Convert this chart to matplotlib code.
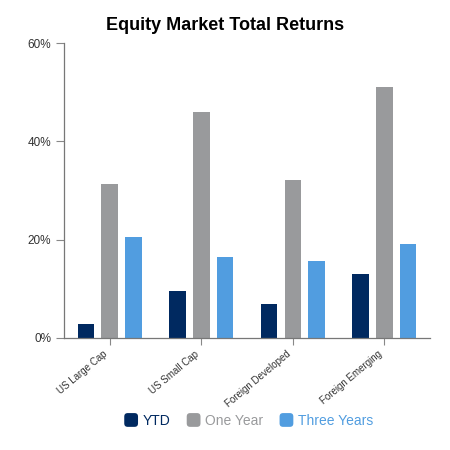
import matplotlib
matplotlib.use("Agg")
import matplotlib.pyplot as plt
import matplotlib.transforms as mtransforms
import numpy as np
from matplotlib.patches import FancyBboxPatch, Patch
from matplotlib.legend_handler import HandlerPatch

plt.rcParams['font.family'] = ['Liberation Sans', 'DejaVu Sans']

categories = ["US Large Cap", "US Small Cap", "Foreign Developed", "Foreign Emerging"]
series_names = ["YTD", "One Year", "Three Years"]
ytd = [2.8, 9.5, 7.0, 13.1]
one_year = [31.4, 46.0, 32.2, 51.0]
three_years = [20.6, 16.5, 15.6, 19.2]
colors = ["#002960", "#999a9c", "#519de0"]
yticks = [0, 20, 40, 60]

fig = plt.figure(figsize=(4.5, 4.5), dpi=100)
ax = fig.add_axes([0.142, 0.249, 0.814, 0.655])

x = np.arange(len(categories))
width = 0.182
offset = 0.259
for i, (vals, c) in enumerate(zip([ytd, one_year, three_years], colors)):
    ax.bar(x + (i - 1) * offset, vals, width=width, color=c, zorder=2)

ax.set_xlim(-0.5, len(categories) - 0.5)
ax.set_ylim(0, 60)
ax.set_yticks(yticks)
ax.set_yticklabels([f"{v}%" for v in yticks], fontsize=8.5, color="#333333")
ax.set_xticks(x)
ax.set_xticklabels(categories, rotation=40, ha='right', rotation_mode='anchor', fontsize=7, color="#333333")
ax.tick_params(axis='x', length=5, color="#888888", pad=3)
ax.tick_params(axis='y', length=6, color="#888888", pad=3)
shift = mtransforms.ScaledTranslation(-7 / 100, 0, fig.dpi_scale_trans)
for lbl in ax.get_xticklabels():
    lbl.set_transform(lbl.get_transform() + shift)
for s in ['top', 'right']:
    ax.spines[s].set_visible(False)
for s in ['left', 'bottom']:
    ax.spines[s].set_color("#777777")
    ax.spines[s].set_linewidth(0.9)

fig.text(0.5, 0.944, "Equity Market Total Returns", ha='center', va='center',
         fontsize=13, fontweight='bold', color="#000000")


class HandlerRound(HandlerPatch):
    def create_artists(self, legend, orig_handle, xdescent, ydescent, width, height, fontsize, trans):
        s = min(width, height) * 1.15
        x0 = (width - s) / 2 - xdescent
        y0 = (height - s) / 2 - ydescent
        p = FancyBboxPatch((x0 + s * 0.15, y0 + s * 0.15), s * 0.7, s * 0.7,
                           boxstyle="round,pad=%f,rounding_size=%f" % (s * 0.15, s * 0.25),
                           facecolor=orig_handle.get_facecolor(), edgecolor='none',
                           transform=trans)
        return [p]


handles = [Patch(facecolor=c) for c in colors]
leg = fig.legend(handles, series_names, loc='center', bbox_to_anchor=(0.553, 0.065),
                 ncol=3, frameon=False, fontsize=10, handletextpad=0.35,
                 columnspacing=1.2, handlelength=0.95, handleheight=0.95,
                 handler_map={Patch: HandlerRound()})
for t, c in zip(leg.get_texts(), colors):
    t.set_color(c)

fig.savefig("out.png", dpi=100)
